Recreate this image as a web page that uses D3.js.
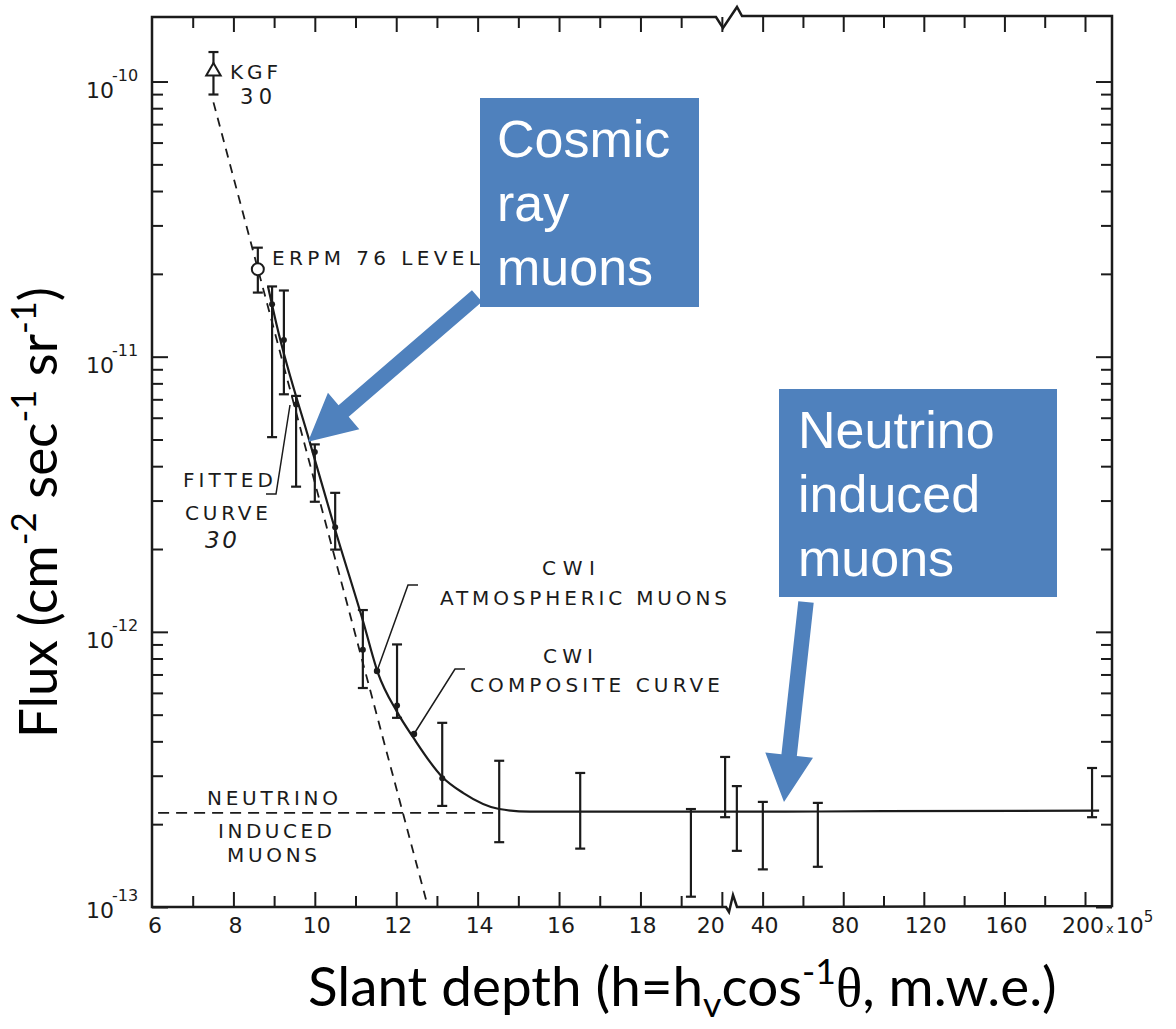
<!DOCTYPE html>
<html lang="en">
<head>
<meta charset="UTF-8">
<title>Muon flux vs slant depth</title>
<script src="https://d3js.org/d3.v7.min.js"></script>
<style>
    body { margin: 0; background: #fff; }
    svg { display: block; }
</style>
</head>
<body>
<svg id="chart" width="1176" height="1029"></svg>
<script>
// ---- data (depth in units of 1e5, flux in cm^-2 s^-1 sr^-1) ----
const xMinorLeft = [7, 9, 11, 13, 15, 17, 19];
const xMajorLeft = [8, 10, 12, 14, 16, 18, 20];
const xLabelsLeft = [6, 8, 10, 12, 14, 16, 18, 20];
const xMinorRight = [60, 100, 140, 180];
const xMajorRight = [40, 80, 120, 160, 200];
const xLabelsRight = [40, 80, 120, 160];
const yDecades = [1e-13, 1e-12, 1e-11, 1e-10];
const yLabelExp = ["-13", "-12", "-11", "-10"];

// KGF and ERPM reference points
const kgfPoint = { depth: 7.51, flux: 1.09e-10, lo: 8.97e-11, hi: 1.28e-10 };
const erpmPoint = { depth: 8.6, flux: 2.08e-11, lo: 1.71e-11, hi: 2.49e-11 };

// CWI measurements
const cwiDepth = [8.95, 9.24, 9.54, 10.0, 10.5, 11.18, 12.02, 13.13, 14.53, 16.52, 19.24, 20.08, 27.2, 40.1, 67.4, 203.5];
const cwiFlux = [1.55e-11, 1.15e-11, 6.7e-12, 4.5e-12, 2.4e-12, 8.6e-13, 5.4e-13, 2.94e-13, 2.25e-13, 2.22e-13, 2.22e-13, 2.2e-13, 2.22e-13, 2.22e-13, 2.22e-13, 2.25e-13];
const cwiHigh = [1.8e-11, 1.74e-11, 7.2e-12, 4.8e-12, 3.2e-12, 1.2e-12, 9.0e-13, 4.67e-13, 3.4e-13, 3.07e-13, 2.27e-13, 3.51e-13, 2.75e-13, 2.41e-13, 2.39e-13, 3.2e-13];
const cwiLow = [5.1e-12, 7.3e-12, 3.37e-12, 2.97e-12, 1.99e-12, 6.25e-13, 4.87e-13, 2.33e-13, 1.72e-13, 1.63e-13, 1.09e-13, 2.12e-13, 1.6e-13, 1.37e-13, 1.4e-13, 2.12e-13];
const cwiDotted = 8; // first points drawn with a centre dot

// dashed fitted curve (KGF / ERPM / CWI atmospheric)
const fitDepth = [7.51, 12.78];
const fitFlux = [8.4e-11, 1.0e-13];

// neutrino induced muon level
const nuDepth = [6.15, 14.45];
const nuFlux = [2.2e-13, 2.2e-13];

// CWI composite curve
const compDepth = [8.85, 9.07, 9.88, 10.5, 11.18, 11.55, 12.02, 12.41, 13.13, 13.64, 14.53, 15.29, 17, 19, 40, 100, 207];
const compFlux = [1.8e-11, 1.29e-11, 4.87e-12, 2.35e-12, 1.1e-12, 7.1e-13, 5.12e-13, 4.15e-13, 2.97e-13, 2.6e-13, 2.27e-13, 2.22e-13, 2.22e-13, 2.22e-13, 2.22e-13, 2.23e-13, 2.24e-13];

// ---- scales ----
const ink = "#1b1b1b";
const plotLeft = 152, plotRight = 1112, plotTop = 17, plotBottom = 907;
const breakPx = 730;
// broken axis: linear 6..20.2, then compressed from 23.8 on
const x = d3.scaleLinear().domain([6, 20.2, 23.8, 213.4]).range([plotLeft, breakPx, breakPx, plotRight]);
const y = d3.scaleLog().domain([1e-13, 1.716e-10]).range([plotBottom, plotTop]);

const svg = d3.select("#chart");

// ---- frame with the axis break marks ----
const framePath = d3.path();
framePath.moveTo(plotLeft, plotBottom);
framePath.lineTo(plotLeft, plotTop);
framePath.lineTo(breakPx - 14, plotTop);
framePath.lineTo(breakPx - 7, plotTop + 11);
framePath.lineTo(breakPx + 7, plotTop - 10);
framePath.lineTo(breakPx + 12, plotTop - 1);
framePath.lineTo(plotRight, plotTop - 1);
framePath.lineTo(plotRight, plotBottom - 1);
framePath.lineTo(breakPx + 7, plotBottom);
framePath.lineTo(breakPx + 3, plotBottom - 12);
framePath.lineTo(breakPx - 1, plotBottom + 5);
framePath.lineTo(breakPx - 4, plotBottom);
framePath.closePath();
svg.append("path").attr("d", framePath.toString())
    .attr("fill", "none").attr("stroke", ink).attr("stroke-width", 2.5);

// ---- ticks (all pointing inward) ----
function ticks(axisFn, scale, values, size, transform) {
    svg.append("g").attr("transform", transform)
        .call(axisFn(scale).tickValues(values).tickSize(-size).tickFormat(""))
        .call(g => g.select(".domain").remove())
        .call(g => g.selectAll("line").attr("stroke", ink).attr("stroke-width", 2));
}
const yMinor = [];
yDecades.slice(0, 3).forEach(d => { for (let k = 2; k <= 9; k++) yMinor.push(k * d); });

ticks(d3.axisBottom, x, xMajorLeft.concat(xMajorRight), 15, `translate(0,${plotBottom})`);
ticks(d3.axisBottom, x, xMinorLeft.concat(xMinorRight), 11, `translate(0,${plotBottom})`);
ticks(d3.axisTop, x, xMajorLeft.concat(xMajorRight), 15, `translate(0,${plotTop})`);
ticks(d3.axisTop, x, xMinorLeft.concat(xMinorRight), 11, `translate(0,${plotTop})`);
ticks(d3.axisLeft, y, yDecades, 16, `translate(${plotLeft},0)`);
ticks(d3.axisLeft, y, yMinor, 11, `translate(${plotLeft},0)`);
ticks(d3.axisRight, y, yDecades, 16, `translate(${plotRight},0)`);
ticks(d3.axisRight, y, yMinor, 11, `translate(${plotRight},0)`);

// ---- tick labels ----
const tickFont = "'DejaVu Sans', sans-serif";
svg.append("g").selectAll("text")
    .data(xLabelsLeft.concat(xLabelsRight))
    .join("text")
    .attr("x", d => x(d) + (d === 6 ? 3 : d === 20 ? -11 : 2))
    .attr("y", plotBottom + 26)
    .attr("text-anchor", "middle")
    .attr("font-family", tickFont).attr("font-size", 22).attr("fill", ink)
    .text(d => d);

const lastLabel = svg.append("text")
    .attr("x", x(200) - 23).attr("y", plotBottom + 26)
    .attr("font-family", tickFont).attr("font-size", 22).attr("fill", ink);
lastLabel.append("tspan").text("200");
lastLabel.append("tspan").attr("font-size", 13).attr("dx", 2).text("x");
lastLabel.append("tspan").attr("dx", 2).text("10");
lastLabel.append("tspan").attr("font-size", 15).attr("dy", -11).text("5");

const yLab = svg.append("g").selectAll("g")
    .data(yDecades)
    .join("g")
    .attr("transform", d => `translate(0,${y(d) + (d === 1e-13 ? -5 : 0)})`);
yLab.append("text").attr("x", 114).attr("y", 16).attr("text-anchor", "end")
    .attr("font-family", tickFont).attr("font-size", 22).attr("fill", ink).text("10");
yLab.append("text").attr("x", 112).attr("y", -1)
    .attr("font-family", tickFont).attr("font-size", 16).attr("fill", ink)
    .text((d, i) => yLabelExp[i]);

// ---- curves ----
const line = d3.line().x(d => x(d[0])).y(d => y(d[1]));

svg.append("path")
    .attr("d", line(d3.zip(fitDepth, fitFlux)))
    .attr("fill", "none").attr("stroke", ink).attr("stroke-width", 1.8)
    .attr("stroke-dasharray", "9,7");

svg.append("path")
    .attr("d", line(d3.zip(nuDepth, nuFlux)))
    .attr("fill", "none").attr("stroke", ink).attr("stroke-width", 1.8)
    .attr("stroke-dasharray", "11,7");

svg.append("path")
    .attr("d", line.curve(d3.curveMonotoneX)(d3.zip(compDepth, compFlux)))
    .attr("fill", "none").attr("stroke", ink).attr("stroke-width", 2.2);

// ---- error bars ----
const cwi = cwiDepth.map((d, i) => ({ depth: d, flux: cwiFlux[i], hi: cwiHigh[i], lo: cwiLow[i], dot: i < cwiDotted }));
const capW = 5;

function errorBars(data) {
    const g = svg.append("g").attr("stroke", ink).attr("stroke-width", 2.2);
    g.selectAll("line.bar").data(data).join("line").attr("class", "bar")
        .attr("x1", d => x(d.depth)).attr("x2", d => x(d.depth))
        .attr("y1", d => y(d.hi)).attr("y2", d => y(d.lo));
    g.selectAll("line.capTop").data(data).join("line").attr("class", "capTop")
        .attr("x1", d => x(d.depth) - capW).attr("x2", d => x(d.depth) + capW)
        .attr("y1", d => y(d.hi)).attr("y2", d => y(d.hi));
    g.selectAll("line.capBot").data(data).join("line").attr("class", "capBot")
        .attr("x1", d => x(d.depth) - capW).attr("x2", d => x(d.depth) + capW)
        .attr("y1", d => y(d.lo)).attr("y2", d => y(d.lo));
}
errorBars(cwi.concat([kgfPoint, erpmPoint]));

svg.append("g").selectAll("circle")
    .data(cwi.filter(d => d.dot))
    .join("circle")
    .attr("cx", d => x(d.depth)).attr("cy", d => y(d.flux)).attr("r", 3)
    .attr("fill", ink);

// ERPM open circle, KGF open triangle
svg.append("circle")
    .attr("cx", x(erpmPoint.depth)).attr("cy", y(erpmPoint.flux)).attr("r", 6)
    .attr("fill", "#fff").attr("stroke", ink).attr("stroke-width", 2);
svg.append("path")
    .attr("transform", `translate(${x(kgfPoint.depth)},${y(kgfPoint.flux)})`)
    .attr("d", d3.symbol(d3.symbolTriangle, 90)())
    .attr("fill", "#fff").attr("stroke", ink).attr("stroke-width", 2);

// ---- figure annotations (typewriter lettering) ----
const lettering = [
    { t: "KGF", x: 230, y: 79, w: 48 },
    { t: "30", x: 240, y: 104, w: 32, s: 21 },
    { t: "ERPM 76 LEVEL", x: 272, y: 265, w: 208 },
    { t: "FITTED", x: 183, y: 487, w: 90 },
    { t: "CURVE", x: 185, y: 520, w: 83 },
    { t: "30", x: 205, y: 548, w: 32, s: 23, it: true },
    { t: "CWI", x: 542, y: 575, w: 53 },
    { t: "ATMOSPHERIC MUONS", x: 440, y: 605, w: 287 },
    { t: "CWI", x: 543, y: 663, w: 50 },
    { t: "COMPOSITE CURVE", x: 470, y: 692, w: 250 },
    { t: "NEUTRINO", x: 207, y: 805, w: 131 },
    { t: "INDUCED", x: 218, y: 838, w: 114 },
    { t: "MUONS", x: 227, y: 862, w: 90 }
];
svg.append("g").selectAll("text")
    .data(lettering)
    .join("text")
    .attr("x", d => d.x).attr("y", d => d.y)
    .attr("textLength", d => d.w).attr("lengthAdjust", "spacing")
    .attr("font-family", tickFont).attr("font-size", d => d.s || 20)
    .attr("font-style", d => d.it ? "italic" : "normal")
    .attr("fill", ink)
    .text(d => d.t);

// leader lines from the lettering to the curves
const leaders = [
    [[266, 494], [276, 494], [290, 405]],
    [[418, 585], [408, 585], [377, 671]],
    [[465, 669], [455, 669], [414, 734]]
];
svg.append("g").selectAll("path")
    .data(leaders)
    .join("path")
    .attr("d", d3.line())
    .attr("fill", "none").attr("stroke", ink).attr("stroke-width", 1.5);
svg.append("g").selectAll("circle")
    .data(leaders.slice(1))
    .join("circle")
    .attr("cx", d => d[2][0]).attr("cy", d => d[2][1]).attr("r", 3.2)
    .attr("fill", ink);

// ---- slide overlay: blue call-out boxes and arrows ----
const blue = "#4f81bd";
function arrowPoints(x1, y1, x2, y2, shaftW, headW, headL) {
    const dx = x2 - x1, dy = y2 - y1, L = Math.hypot(dx, dy);
    const ux = dx / L, uy = dy / L, nx = -uy, ny = ux;
    const bx = x2 - ux * headL, by = y2 - uy * headL;
    return [
        [x1 + nx * shaftW / 2, y1 + ny * shaftW / 2],
        [bx + nx * shaftW / 2, by + ny * shaftW / 2],
        [bx + nx * headW / 2, by + ny * headW / 2],
        [x2, y2],
        [bx - nx * headW / 2, by - ny * headW / 2],
        [bx - nx * shaftW / 2, by - ny * shaftW / 2],
        [x1 - nx * shaftW / 2, y1 - ny * shaftW / 2]
    ];
}
const callouts = [
    { box: [480, 98, 219, 209], lines: ["Cosmic", "ray", "muons"], tx: 497, ty: 157,
      from: [477, 296], to: [9.833, 4.91e-12] },
    { box: [779, 389, 278, 208], lines: ["Neutrino", "induced", "muons"], tx: 798, ty: 448,
      from: [806, 602], to: [50.6, 2.41e-13] }
];
callouts.forEach(c => {
    svg.append("polygon")
        .attr("points", arrowPoints(c.from[0], c.from[1], x(c.to[0]), y(c.to[1]), 15.5, 48, 47).join(" "))
        .attr("fill", blue);
    svg.append("rect")
        .attr("x", c.box[0]).attr("y", c.box[1]).attr("width", c.box[2]).attr("height", c.box[3])
        .attr("fill", blue);
    svg.append("g").selectAll("text")
        .data(c.lines)
        .join("text")
        .attr("x", c.tx).attr("y", (d, i) => c.ty + i * 64)
        .attr("font-family", "'Liberation Sans', Arial, sans-serif").attr("font-size", 52)
        .attr("fill", "#fff")
        .text(d => d);
});

// ---- axis titles (fitted to the width seen in the slide) ----
function fitWidth(textSel, target) {
    const w = textSel.node().getComputedTextLength();
    const fs = parseFloat(textSel.attr("font-size"));
    textSel.attr("font-size", fs * target / w);
}
const titleFont = "Lato, 'Open Sans', sans-serif";

const yTitle = svg.append("text")
    .attr("transform", "translate(57,738) rotate(-90)")
    .attr("font-family", titleFont).attr("font-size", 44).attr("fill", "#000");
yTitle.append("tspan").text("Flux (cm");
yTitle.append("tspan").attr("font-size", "65%").attr("dy", "-0.62em").text("-2");
yTitle.append("tspan").attr("dy", "0.403em").text(" sec");
yTitle.append("tspan").attr("font-size", "65%").attr("dy", "-0.62em").text("-1");
yTitle.append("tspan").attr("dy", "0.403em").text(" sr");
yTitle.append("tspan").attr("font-size", "65%").attr("dy", "-0.62em").text("-1");
yTitle.append("tspan").attr("dy", "0.403em").text(")");
fitWidth(yTitle, 451);

const xTitle = svg.append("text")
    .attr("x", 308).attr("y", 1006)
    .attr("font-family", titleFont).attr("font-size", 44).attr("fill", "#000");
xTitle.append("tspan").text("Slant depth (h=h");
xTitle.append("tspan").attr("font-size", "65%").attr("dy", "0.3em").text("v");
xTitle.append("tspan").attr("dy", "-0.195em").text("cos");
xTitle.append("tspan").attr("font-size", "65%").attr("dy", "-0.62em").text("-1");
xTitle.append("tspan").attr("dy", "0.403em")
    .attr("font-family", "'Liberation Serif', 'DejaVu Serif', serif").text("\u03b8");
xTitle.append("tspan").text(", m.w.e.)");
fitWidth(xTitle, 749);
</script>
</body>
</html>
